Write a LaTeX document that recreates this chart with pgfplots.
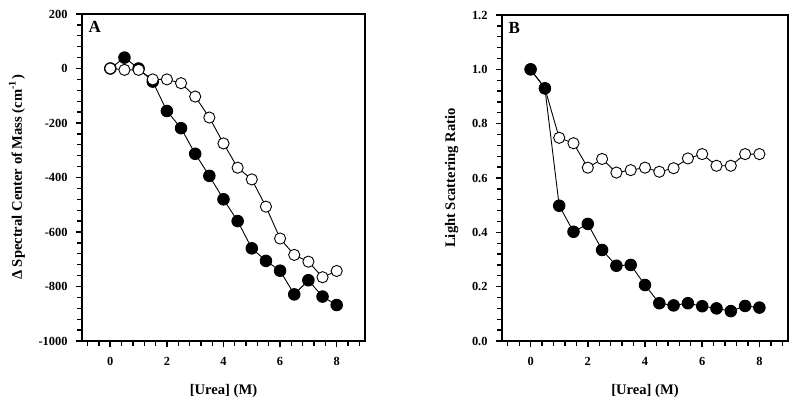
\documentclass[border=0pt]{standalone}
\usepackage{fontspec}
\setmainfont{Liberation Serif}
\usepackage{pgfplots}
\pgfplotsset{compat=1.18}
\begin{document}
\begin{tikzpicture}
\useasboundingbox (-41pt,-32pt) rectangle (359pt,170.5pt);
\pgfplotsset{
  myax/.style={
    scale only axis,
    xmin=-1, xmax=9,
    xtick={0,2,4,6,8},
    minor xtick={-0.8,-0.4,...,8.9},
    minor y tick num=4,
    xtick pos=bottom, ytick pos=left,
    tick align=outside,
    major tick length=3.2pt, minor tick length=2.4pt,
    major tick style={black, line width=0.8pt},
    minor tick style={black, line width=0.65pt},
    axis line style={line width=0.7pt},
    /pgf/number format/assume math mode=true,
    /pgf/number format/1000 sep={},
    tick label style={font=\bfseries\fontsize{6.2}{7}\selectfont},
    yticklabel style={xshift=-0.5pt},
    xticklabel style={yshift=-1.5pt},
    label style={font=\bfseries\fontsize{7.3}{8}\selectfont},
    xlabel={[Urea] (M)},
    xlabel style={yshift=-2.5pt},
    every axis plot/.append style={line width=0.45pt, black},
  },
  fil/.style={mark=*, mark size=2.9pt, mark options={fill=black, draw=black}},
  opn/.style={mark=*, mark size=2.8pt, mark options={fill=white, draw=black, line width=0.45pt}},
}
\begin{axis}[myax, at={(0pt,0pt)}, anchor=south west,
  width=141.5pt, height=163.5pt,
  ymin=-1000, ymax=200,
  ytick={-1000,-800,...,200},
  ylabel={Δ Spectral Center of Mass (cm\textsuperscript{-1})},
]
\addplot[fil] coordinates {
(0,0) (0.5,40) (1,0) (1.5,-48) (2,-156) (2.5,-219) (3,-313) (3.5,-394) (4,-480)
(4.5,-560) (5,-660) (5.5,-706) (6,-742) (6.5,-829) (7,-777) (7.5,-837) (8,-868)};
\addplot[opn] coordinates {
(0,0) (0.5,-5) (1,-5) (1.5,-40) (2,-40) (2.5,-54) (3,-103) (3.5,-180) (4,-275)
(4.5,-364) (5,-407) (5.5,-507) (6,-624) (6.5,-684) (7,-709) (7.5,-766) (8,-743)};
\node[anchor=north west, font=\bfseries\fontsize{8.5}{9}\selectfont, inner sep=1pt] at (rel axis cs:0.015,0.985) {A};
\end{axis}
\begin{axis}[myax, at={(210pt,0pt)}, anchor=south west,
  width=143pt, height=163pt,
  ymin=0, ymax=1.2,
  ytick={0,0.2,...,1.21},
  yticklabel style={/pgf/number format/fixed, /pgf/number format/fixed zerofill, /pgf/number format/precision=1},
  ylabel={Light Scattering Ratio},
]
\addplot[opn] coordinates {
(0,1.0) (0.5,0.93) (1,0.748) (1.5,0.728) (2,0.638) (2.5,0.670) (3,0.620) (3.5,0.629) (4,0.638)
(4.5,0.623) (5,0.636) (5.5,0.672) (6,0.688) (6.5,0.645) (7,0.645) (7.5,0.688) (8,0.688)};
\addplot[fil] coordinates {
(0,1.0) (0.5,0.930) (1,0.498) (1.5,0.402) (2,0.431) (2.5,0.335) (3,0.277) (3.5,0.280) (4,0.206)
(4.5,0.139) (5,0.131) (5.5,0.139) (6,0.128) (6.5,0.120) (7,0.110) (7.5,0.129) (8,0.123)};
\node[anchor=north west, font=\bfseries\fontsize{8.5}{9}\selectfont, inner sep=1pt] at (rel axis cs:0.015,0.985) {B};
\end{axis}
\end{tikzpicture}
\end{document}
